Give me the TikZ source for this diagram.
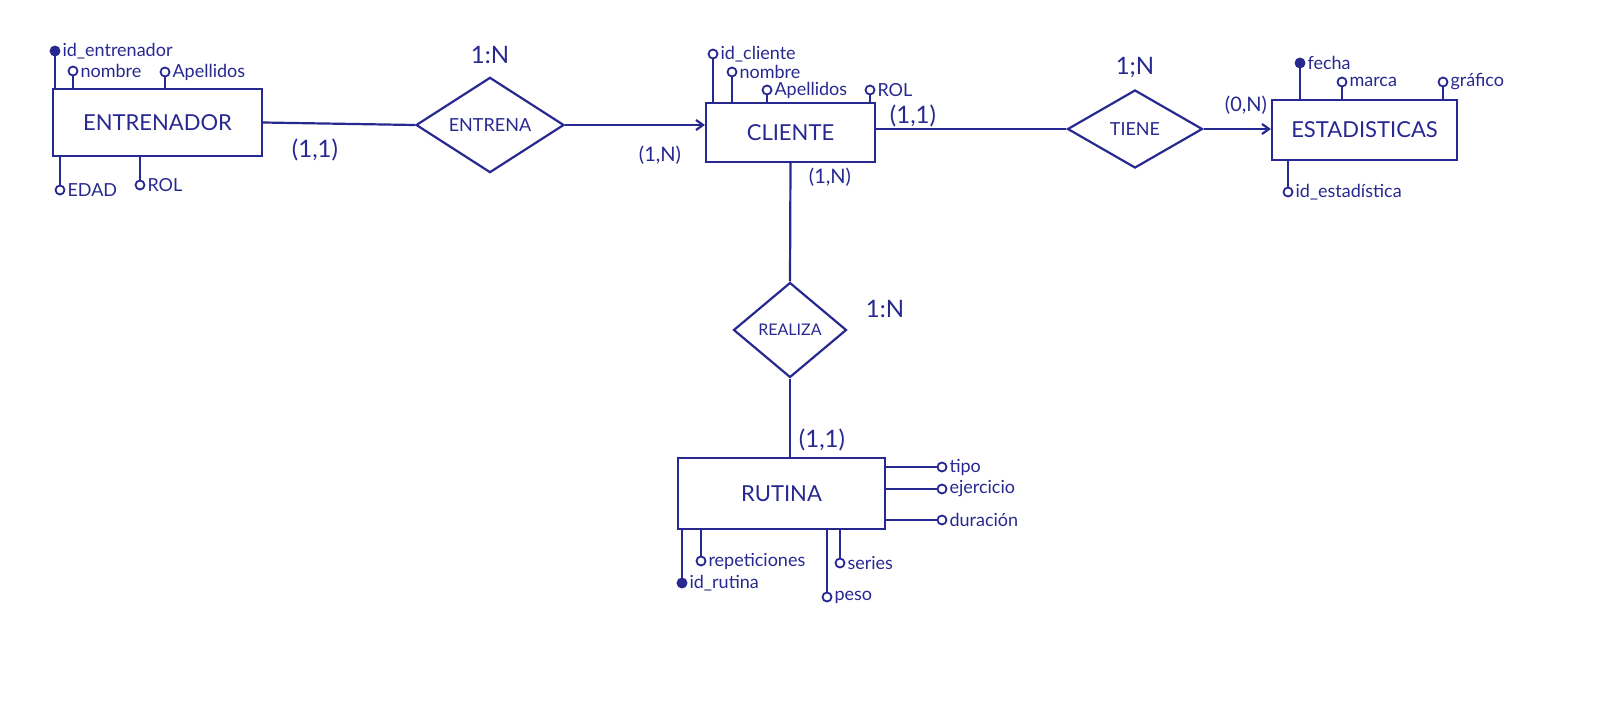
\documentclass[tikz,border=0pt]{standalone}
\usepackage{fontspec}
\setmainfont{Lato}
\usetikzlibrary{shapes.geometric,arrows.meta}
\definecolor{ink}{RGB}{40,40,145}
\begin{document}
\begin{tikzpicture}[x=1pt,y=-1pt, line width=2.2pt, draw=ink,
 every node/.style={text=ink},
 entity/.style={draw=ink, rectangle, inner sep=0pt, font=\fontsize{22}{24}\selectfont},
 rel/.style={draw=ink, diamond, inner sep=0pt, font=\fontsize{18}{20}\selectfont},
 attr/.style={draw=ink, circle, fill=white, inner sep=0pt, minimum size=9pt, line width=1.8pt},
 keyattr/.style={attr, fill=ink},
 lbl/.style={font=\fontsize{18}{20}\selectfont, inner sep=1pt, text=ink},
 card/.style={font=\fontsize{24}{26}\selectfont},
 smallcard/.style={font=\fontsize{20}{22}\selectfont},
 tip/.style={-{Straight Barb[length=7pt,width=10pt]}}
 ]
\fill[white] (0,0) rectangle (1600,723);
\useasboundingbox (0,0) rectangle (1600,723);

% entities
\node[entity, minimum width=209pt, minimum height=67pt] (E) at (157.5,122.5) {ENTRENADOR};
\node[entity, minimum width=169pt, minimum height=59pt] (C) at (790.5,132.5) {CLIENTE};
\node[entity, minimum width=185pt, minimum height=60pt] (S) at (1364.5,130) {ESTADISTICAS};
\node[entity, minimum width=207pt, minimum height=71pt] (R) at (781.5,493.5) {RUTINA};

% relationships
\node[rel, minimum width=148pt, minimum height=93pt] (ent) at (490,125) {ENTRENA};
\node[rel, minimum width=135pt, minimum height=78pt] (tie) at (1135,129) {TIENE};
\node[rel, minimum width=113pt, minimum height=95pt, font=\fontsize{16}{18}\selectfont] (rea) at (790,330) {REALIZA};

% connectors
\draw (E.east) -- (ent.west);
\draw[tip] (ent.east) -- (ent.east -| C.west);
\draw (tie.west -| C.east) -- (tie.west);
\draw[tip] (tie.east) -- (tie.east -| S.west);
\draw (C.south) -- (rea.north);
\draw (rea.south) -- (rea.south |- R.north);

% cardinalities
\node[card] (k1) at (315,150) {(1,1)};
\node[card] (k2) at (490,55) {1:N};
\node[smallcard] (k3) at (660,155) {(1,N)};
\node[smallcard] (k4) at (830,177) {(1,N)};
\node[card] (k5) at (913,116) {(1,1)};
\node[card] (k6) at (1135,68) {1;N};
\node[smallcard] (k7) at (1246,105) {(0,N)};
\node[card] (k8) at (885,309) {1:N};
\node[card] (k9) at (822,440) {(1,1)};

% ENTRENADOR attributes
\node[keyattr, label={[lbl]right:id\_entrenador}] (ea) at (55,51) {};
\node[attr, label={[lbl]right:nombre}] (eb) at (73,71) {};
\node[attr, label={[lbl]right:Apellidos}] (ec) at (165,72) {};
\node[attr, label={[lbl]right:EDAD}] (ed) at (60,190) {};
\node[attr, label={[lbl]right:ROL}] (ee) at (140,185) {};
\draw (ea) -- (ea |- E.north);
\draw (eb) -- (eb |- E.north);
\draw (ec) -- (ec |- E.north);
\draw (ed) -- (ed |- E.south);
\draw (ee) -- (ee |- E.south);

% CLIENTE attributes
\node[attr, label={[lbl]right:id\_cliente}] (ca) at (713,54) {};
\node[attr, label={[lbl]right:nombre}] (cb) at (732,72) {};
\node[attr, label={[lbl]right:Apellidos}] (cc) at (767,90) {};
\node[attr, label={[lbl]right:ROL}] (cd) at (870,90) {};
\draw (ca) -- (ca |- C.north);
\draw (cb) -- (cb |- C.north);
\draw (cc) -- (cc |- C.north);
\draw (cd) -- (cd |- C.north);

% ESTADISTICAS attributes
\node[keyattr, label={[lbl]right:fecha}] (sa) at (1300,63) {};
\node[attr, label={[lbl]right:marca}] (sb) at (1342,82) {};
\node[attr, label={[lbl]right:gr\'afico}] (sc) at (1443,82) {};
\node[attr, label={[lbl]right:id\_estad\'istica}] (sd) at (1288,192) {};
\draw (sa) -- (sa |- S.north);
\draw (sb) -- (sb |- S.north);
\draw (sc) -- (sc |- S.north);
\draw (sd) -- (sd |- S.south);

% RUTINA attributes
\node[attr, label={[lbl]right:tipo}] (ra) at (942,467) {};
\node[attr, label={[lbl]right:ejercicio}] (rb) at (942,489) {};
\node[attr, label={[lbl]right:duraci\'on}] (rc) at (942,520) {};
\node[keyattr, label={[lbl]right:id\_rutina}] (rd) at (682,583) {};
\node[attr, label={[lbl]right:repeticiones}] (re) at (701,561) {};
\node[attr, label={[lbl]right:peso}] (rf) at (827,597) {};
\node[attr, label={[lbl]right:series}] (rg) at (840,563) {};
\draw (ra -| R.east) -- (ra);
\draw (rb -| R.east) -- (rb);
\draw (rc -| R.east) -- (rc);
\draw (rd) -- (rd |- R.south);
\draw (re) -- (re |- R.south);
\draw (rf) -- (rf |- R.south);
\draw (rg) -- (rg |- R.south);
\end{tikzpicture}
\end{document}
